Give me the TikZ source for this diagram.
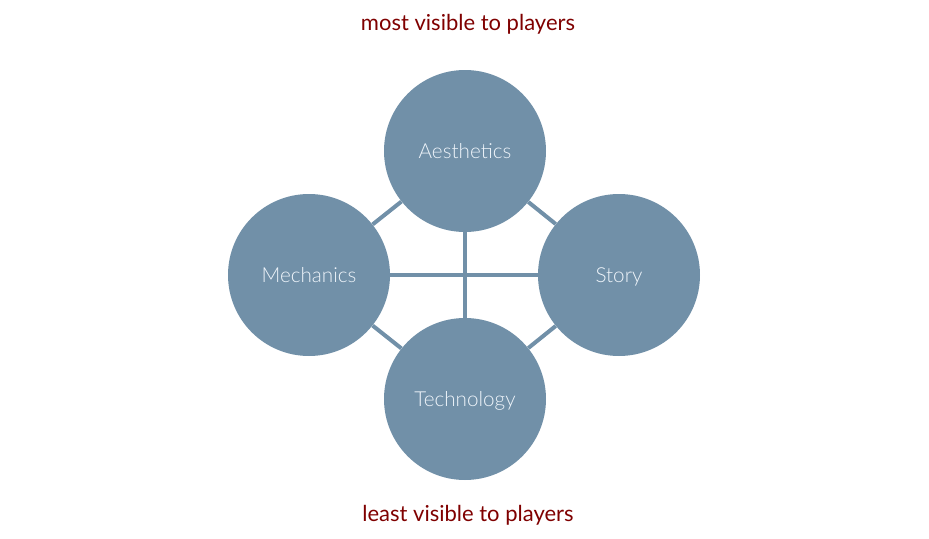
\documentclass[tikz,border=0pt]{standalone}
\usepackage{fontspec}
\setmainfont{Lato Light}
\usepackage{tikz}

\definecolor{slate}{HTML}{7190A8}
\definecolor{labeltext}{HTML}{EEF4FA}
\definecolor{darkred}{HTML}{7F0000}

\tikzset{
  elem/.style={circle, fill=slate, minimum size=121.5pt, inner sep=0pt,
    text=labeltext, text height=12pt, text depth=1pt,
    font=\fontsize{15.5}{18}\selectfont},
  link/.style={draw=slate, line width=3pt},
  caption/.style={text=darkred, font=\fontspec{Lato}\fontsize{16.5}{19}\selectfont}
}

\begin{document}
\begin{tikzpicture}[x=0.75pt,y=-0.75pt]
	\useasboundingbox (0,0) rectangle (929,539);
	
	\node[elem] (aes) at (465,151) {Aesthetics};
	\node[elem] (mech) at (309,275) {Mechanics};
	\node[elem] (story) at (619,275) {Story};
	\node[elem] (tech) at (465,399) {Technology};
	
	\draw[link] (mech) -- (story);
	\draw[link] (aes) -- (tech);
	\draw[link] (mech) -- (aes);
	\draw[link] (aes) -- (story);
	\draw[link] (story) -- (tech);
	\draw[link] (tech) -- (mech);
	
	\node[caption] (top) at (468,24) {most visible to players};
	\node[caption] (bottom) at (468,515) {least visible to players};
\end{tikzpicture}
\end{document}
